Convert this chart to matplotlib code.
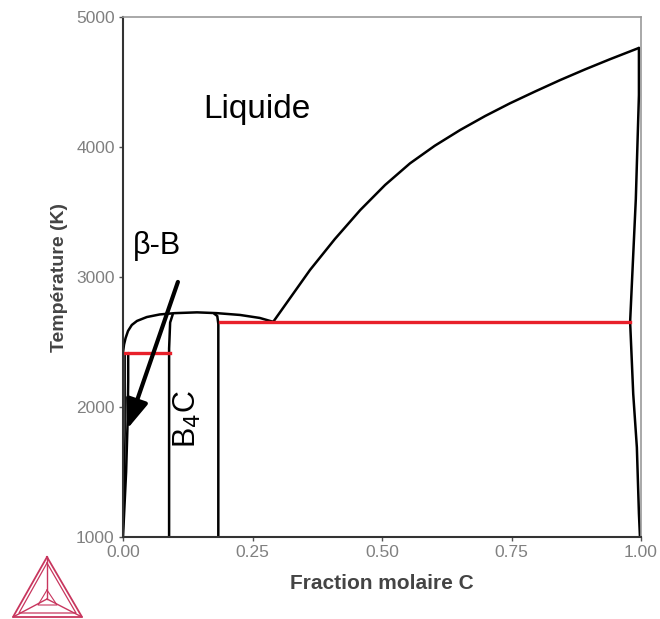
import matplotlib
matplotlib.use("Agg")
import matplotlib.pyplot as plt
from matplotlib.lines import Line2D

plt.rcParams['font.family'] = ['Liberation Sans', 'DejaVu Sans']

# ---- data ----
liqB_x = [0.0, 0.002, 0.005, 0.0097, 0.017, 0.027, 0.046, 0.071, 0.100, 0.143,
          0.181, 0.226, 0.264, 0.29]
liqB_T = [2420, 2480, 2530, 2585, 2631, 2662, 2692, 2712, 2722, 2728,
          2722, 2708, 2685, 2655]

liqC_x = [0.29, 0.361, 0.409, 0.458, 0.506, 0.554, 0.602, 0.651, 0.699, 0.747,
          0.795, 0.844, 0.892, 0.940, 0.996]
liqC_T = [2655, 3054, 3292, 3515, 3708, 3874, 4010, 4131, 4238, 4336,
          4426, 4515, 4597, 4675, 4762]

graph_x = [0.996, 0.996, 0.990, 0.983, 0.979, 0.985, 0.992, 0.996, 0.998]
graph_T = [4762, 4400, 3600, 3000, 2655, 2100, 1690, 1180, 1000]

b4cL_x = [0.089, 0.089, 0.091, 0.096]
b4cL_T = [1000, 2450, 2650, 2712]
b4cR_x = [0.184, 0.184, 0.182, 0.176]
b4cR_T = [1000, 2640, 2700, 2718]

betaB_x = [0.0, 0.006, 0.009, 0.010, 0.010]
betaB_T = [1000, 1500, 1900, 2200, 2415]
betaB2_x = [0.004, 0.004, 0.002, 0.0]
betaB2_T = [2415, 1800, 1300, 1000]

eut1_x = [0.0, 0.091]
eut1_T = [2415, 2415]
eut2_x = [0.187, 0.979]
eut2_T = [2655, 2655]

arrow_from = (0.106, 2962)
arrow_to = (0.008, 1830)

xticks = [0.0, 0.25, 0.5, 0.75, 1.0]
xticklabels = ["0.00", "0.25", "0.50", "0.75", "1.00"]
yticks = [1000, 2000, 3000, 4000, 5000]

W, H = 660, 619
fig = plt.figure(figsize=(W / 100, H / 100), dpi=100)
ax = fig.add_axes([123 / W, 1 - 537 / H, (641 - 123) / W, (537 - 17) / H])

blk = dict(color='black', lw=1.8, solid_capstyle='round', solid_joinstyle='round')
ax.plot(liqB_x, liqB_T, **blk)
ax.plot(liqC_x, liqC_T, **blk)
ax.plot(graph_x, graph_T, **blk)
ax.plot(b4cL_x, b4cL_T, **blk)
ax.plot(b4cR_x, b4cR_T, **blk)
ax.plot(betaB_x, betaB_T, **blk)
ax.plot(betaB2_x, betaB2_T, color='black', lw=1.2)
ax.plot(eut1_x, eut1_T, color='#e8202a', lw=2.4)
ax.plot(eut2_x, eut2_T, color='#e8202a', lw=2.4)

ax.annotate('', xy=arrow_to, xytext=arrow_from,
            arrowprops=dict(arrowstyle='-|>,head_length=1.1,head_width=0.42',
                            lw=3, color='black', mutation_scale=16,
                            shrinkA=0, shrinkB=0))

ax.text(0.259, 4285, 'Liquide', fontsize=24, ha='center', va='center')
ax.text(0.066, 3240, 'β-B', fontsize=22, ha='center', va='center')
ax.text(0.124, 1905, r'B$_4$C', fontsize=22, ha='center', va='center',
        rotation=90)

ax.set_xlim(0, 1)
ax.set_ylim(1000, 5000)
ax.set_xticks(xticks)
ax.set_xticklabels(xticklabels)
ax.set_yticks(yticks)
ax.tick_params(axis='both', direction='out', length=3, width=1,
               colors='#555555', labelcolor='#808080', labelsize=12.5, pad=3)

for s in ['top', 'right']:
    ax.spines[s].set_color('#999999')
    ax.spines[s].set_linewidth(1.2)
for s in ['left', 'bottom']:
    ax.spines[s].set_color('#333333')
    ax.spines[s].set_linewidth(1.5)

ax.set_xlabel('Fraction molaire C', fontsize=15, fontweight='bold',
              color='#444444', labelpad=10)
ax.set_ylabel('Température (K)', fontsize=14, fontweight='bold',
              color='#444444', labelpad=6)

# Thermo-Calc style logo (decoration)
def fx(px):
    return px / W

def fy(py):
    return 1 - py / H

col = '#c8365e'
top, bl, br = (47, 557), (13, 617), (82, 617)
c = (47, 599)

def tri(a, b, cc, lw):
    xs = [fx(p[0]) for p in (a, b, cc, a)]
    ys = [fy(p[1]) for p in (a, b, cc, a)]
    fig.add_artist(Line2D(xs, ys, color=col, lw=lw, transform=fig.transFigure))

def seg(a, b, lw):
    fig.add_artist(Line2D([fx(a[0]), fx(b[0])], [fy(a[1]), fy(b[1])],
                          color=col, lw=lw, transform=fig.transFigure))

tri(top, bl, br, 1.3)
tri((47, 563), (19, 613), (76, 613), 0.9)
seg(top, c, 1.0)
seg(bl, c, 1.0)
seg(br, c, 1.0)
tri((47, 590), (38, 605), (57, 605), 0.8)

fig.savefig('out.png', dpi=100)
